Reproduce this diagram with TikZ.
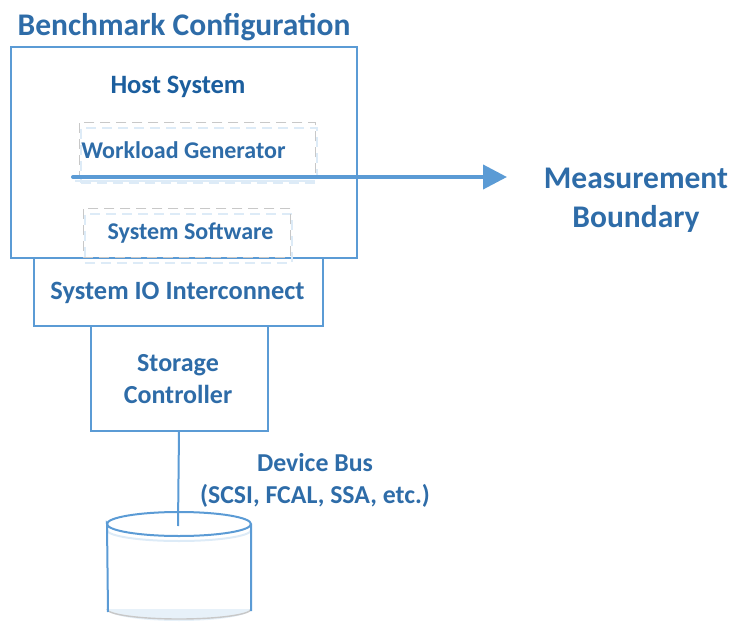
\documentclass[tikz,border=0pt]{standalone}
\usepackage{fontspec}
\setmainfont{Carlito}
\usetikzlibrary{arrows.meta}
\definecolor{linecol}{HTML}{5B9BD5}
\definecolor{textcol}{HTML}{2E6CA8}
\definecolor{hostcol}{HTML}{1B5E9E}
\definecolor{ghost}{HTML}{DDEBF7}
\definecolor{dashcol}{HTML}{C8C8C8}
\tikzset{
  x=1pt,y=-1pt,
  boxstyle/.style={draw=linecol,line width=2pt,fill=white,inner sep=0pt,anchor=north west},
  dashbox/.style={draw=dashcol,line width=1.6pt,dash pattern=on 10pt off 6pt,inner sep=0pt,anchor=north west},
  ghostbox/.style={draw=ghost,line width=1.6pt,dash pattern=on 10pt off 6pt,inner sep=0pt,anchor=north west},
  lbl/.style={text=textcol,align=center,inner sep=0pt},
}
\begin{document}
\begin{tikzpicture}
\useasboundingbox (0,0) rectangle (732,624);
% boxes
\node[boxstyle,minimum width=289pt,minimum height=68pt] (io) at (33,256.5) {};
\node[boxstyle,minimum width=346pt,minimum height=211pt] (host) at (9.5,45.5) {};
\node[boxstyle,minimum width=177pt,minimum height=105pt] (ctrl) at (89.5,324.5) {};
% dashed boxes and their soft shadows
\node[ghostbox,minimum width=236pt,minimum height=55pt] (wgs) at (80,127) {};
\node[dashbox,minimum width=236pt,minimum height=55pt] (wg) at (78.5,121.5) {};
\node[ghostbox,minimum width=207pt,minimum height=49pt] (sss) at (84,213) {};
\node[dashbox,minimum width=207pt,minimum height=49pt] (ss) at (82.5,207.5) {};
% disk
\fill[ghost!70] (107,609) -- (251,609) arc[start angle=0,end angle=180,x radius=72,y radius=12] -- cycle;
\draw[dashcol,line width=1.4pt] (107,609) arc[start angle=180,end angle=0,x radius=72,y radius=10];
\draw[ghost,line width=2pt] (107,530) arc[start angle=180,end angle=0,x radius=72,y radius=11];
\draw[linecol,line width=2pt] (108,612) -- (107,524) arc[start angle=180,end angle=-180,x radius=72,y radius=12] (251,524) -- (251,611);
\coordinate (disktop) at (178,526);
\draw[linecol,line width=2pt] (ctrl.south) -- (disktop);
% labels
\node[lbl,font=\bfseries\fontsize{31.5}{38}\selectfont] (title) at (184,27.5) {Benchmark Configuration};
\node[lbl,text=hostcol,font=\bfseries\fontsize{26.5}{32}\selectfont] (hostl) at (178,87) {Host System};
\node[lbl,font=\bfseries\fontsize{24}{29}\selectfont] (wgl) at (183.5,150) {Workload Generator};
\node[lbl,font=\bfseries\fontsize{24}{29}\selectfont] (ssl) at (190.5,233) {System Software};
\node[lbl,font=\bfseries\fontsize{26.4}{32}\selectfont] (iol) at (177.5,292.5) {System IO Interconnect};
\node[lbl,font=\bfseries\fontsize{26}{32}\selectfont] (ctrll) at (178,379) {Storage\\Controller};
\node[lbl,font=\bfseries\fontsize{25.8}{32}\selectfont] (bus) at (315,480) {Device Bus\\(SCSI, FCAL, SSA, etc.)};
\node[lbl,font=\bfseries\fontsize{31.5}{39}\selectfont] (mb) at (636,200) {Measurement\\Boundary};
% arrow
\coordinate (astart) at (73,177);
\coordinate (aend) at (507,177);
\draw[ghost,line width=2pt] (75,181) -- (315,181);
\draw[linecol,line width=4pt,line cap=round,-{Triangle[length=24pt,width=24pt]}] (astart) -- (aend);
\end{tikzpicture}
\end{document}
